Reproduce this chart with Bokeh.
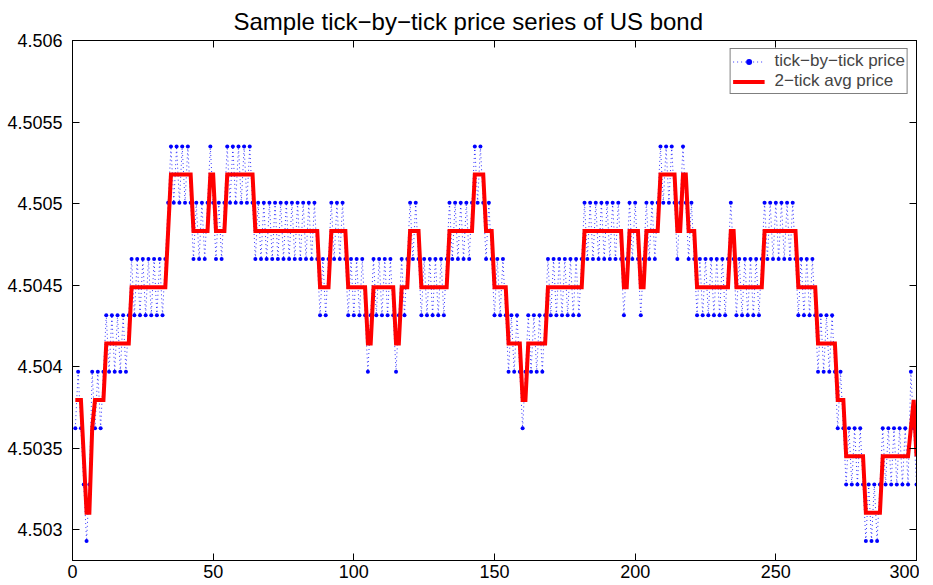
import numpy as np
import pandas as pd
from bokeh.plotting import figure
from bokeh.models import (ColumnDataSource, Range1d, FixedTicker, LinearAxis,
                          Legend, LegendItem, CustomJSTickFormatter)
from bokeh.embed import file_html
from bokeh.resources import INLINE

# ---------------- data ----------------
# log-price grid levels (one 1/32 tick apart), lowest to highest
price_levels = [4.502930, 4.503276, 4.503622, 4.503968,
                4.504314, 4.504659, 4.505005, 4.505350]

# level of each tick, tick index 0..300 (index 0 is the tick just before the window)
tick_level = (
    [3, 2, 3, 2, 1, 0, 1, 3, 2, 3, 2, 3]                      # 0-11
    + [4, 3, 4, 3, 4, 3, 4, 3, 4]                             # 12-20
    + [5, 4, 5, 4, 5, 4, 5, 4, 5, 4, 5, 4, 5]                 # 21-33
    + [6]                                                     # 34
    + [7, 6, 7, 6, 7, 6, 7, 6]                                # 35-42
    + [5, 6, 5, 6, 5, 6]                                      # 43-48
    + [7, 6]                                                  # 49-50
    + [5, 6, 5, 6]                                            # 51-54
    + [7, 6, 7, 6, 7, 6, 7, 6, 7, 6]                          # 55-64
    + [5, 6, 5, 6, 5, 6, 5, 6, 5, 6, 5, 6,
       5, 6, 5, 6, 5, 6, 5, 6, 5, 6, 5]                       # 65-87
    + [4, 5, 4, 5]                                            # 88-91
    + [6, 5, 6, 5, 6, 5]                                      # 92-97
    + [4, 5, 4, 5, 4, 5, 4]                                   # 98-104
    + [3, 4]                                                  # 105-106
    + [5, 4, 5, 4, 5, 4, 5, 4]                                # 107-114
    + [3, 4]                                                  # 115-116
    + [5, 4, 5]                                               # 117-119
    + [6, 5, 6, 5]                                            # 120-123
    + [4, 5, 4, 5, 4, 5, 4, 5, 4, 5]                          # 124-133
    + [6, 5, 6, 5, 6, 5, 6, 5, 6]                             # 134-142
    + [7, 6, 7, 6]                                            # 143-146
    + [5, 6, 5]                                               # 147-149
    + [4, 5, 4, 5, 4]                                         # 150-154
    + [3, 4, 3, 4, 3]                                         # 155-159
    + [2, 3]                                                  # 160-161
    + [4, 3, 4, 3, 4, 3, 4]                                   # 162-168
    + [5, 4, 5, 4, 5, 4, 5, 4, 5, 4, 5, 4, 5]                 # 169-181
    + [6, 5, 6, 5, 6, 5, 6, 5, 6, 5, 6, 5, 6, 5]              # 182-195
    + [4, 5]                                                  # 196-197
    + [6, 5, 6, 5]                                            # 198-201
    + [4, 5]                                                  # 202-203
    + [6, 5, 6, 5, 6]                                         # 204-208
    + [7, 6, 7, 6, 7, 6]                                      # 209-214
    + [5, 6, 7, 6]                                            # 215-218
    + [5, 6, 5]                                               # 219-221
    + [4, 5, 4, 5, 4, 5, 4, 5, 4, 5, 4, 5]                    # 222-233
    + [6, 5]                                                  # 234-235
    + [4, 5, 4, 5, 4, 5, 4, 5, 4, 5]                          # 236-245
    + [6, 5, 6, 5, 6, 5, 6, 5, 6, 5, 6, 5]                    # 246-257
    + [4, 5, 4, 5, 4, 5, 4]                                   # 258-264
    + [3, 4, 3, 4, 3, 4, 3]                                   # 265-271
    + [2, 3, 2]                                               # 272-274
    + [1, 2, 1, 2, 1, 2, 1]                                   # 275-281
    + [0, 1, 0, 1, 0, 1]                                      # 282-287
    + [2, 1, 2, 1, 2, 1, 2, 1, 2, 1]                          # 288-297
    + [3, 2, 1]                                               # 298-300
)
assert len(tick_level) == 301

x_ticks = [0, 50, 100, 150, 200, 250, 300]
y_ticks = [4.503, 4.5035, 4.504, 4.5045, 4.505, 4.5055, 4.506]

title_text = "Sample tick\u2212by\u2212tick price series of US bond"
label_tick = "tick\u2212by\u2212tick price"
label_avg = "2\u2212tick avg price"

# ---------------- derived series ----------------
tick_price = pd.Series([price_levels[k] for k in tick_level])
avg_price = tick_price.rolling(2).mean()          # 2-tick average
idx = np.arange(len(tick_level))

src = ColumnDataSource(dict(x=idx[1:], tick=tick_price.values[1:],
                            avg=avg_price.values[1:]))

FONT = "Liberation Sans"

p = figure(width=919, height=580, output_backend="svg", toolbar_location=None,
           x_range=Range1d(0, 300), y_range=Range1d(4.50281, 4.506),
           min_border_left=72, min_border_right=3, min_border_top=40,
           min_border_bottom=10)
p.grid.visible = False
p.background_fill_color = "white"
p.border_fill_color = "white"
p.outline_line_color = "black"
p.outline_line_width = 1

p.title.text = title_text
p.title.align = "left"
p.title.offset = 161
p.title.standoff = 11
p.title.text_font = FONT
p.title.text_font_size = "24px"
p.title.text_line_height = 1.0
p.title.text_font_style = "normal"
p.title.text_color = "black"

r_line = p.line("x", "tick", source=src, line_color="#0000ff", line_width=0.8,
                line_dash="1 3")
r_dot = p.scatter("x", "tick", source=src, size=4, marker="circle",
                  fill_color="#0000ff", line_color="#0000ff", line_width=0)
r_avg = p.line("x", "avg", source=src, line_color="#ff0000", line_width=4,
               line_join="miter")

fmt = CustomJSTickFormatter(code="return tick.toFixed(4).replace(/0+$/, '');")
blank = CustomJSTickFormatter(code="return '';")

def style_axis(ax, ticks, show_labels=True):
    ax.ticker = FixedTicker(ticks=ticks)
    ax.major_tick_in = 7
    ax.major_tick_out = 0
    ax.minor_tick_in = 0
    ax.minor_tick_out = 0
    ax.axis_line_color = "black"
    ax.major_tick_line_color = "black"
    ax.major_label_text_font = FONT
    ax.major_label_text_color = "black"
    if show_labels:
        ax.major_label_text_font_size = "18px"
        ax.major_label_text_line_height = 0.9
    else:
        ax.formatter = blank
        ax.major_label_text_font_size = "1px"
        ax.major_label_standoff = 0

style_axis(p.xaxis[0], x_ticks)
p.xaxis[0].major_label_standoff = 4
style_axis(p.yaxis[0], y_ticks)
p.yaxis[0].major_label_standoff = 10
p.yaxis[0].formatter = fmt

ax_top = LinearAxis()
style_axis(ax_top, x_ticks, show_labels=False)
p.add_layout(ax_top, "above")
ax_right = LinearAxis()
style_axis(ax_right, y_ticks, show_labels=False)
p.add_layout(ax_right, "right")

legend = Legend(items=[LegendItem(label=label_tick, renderers=[r_line, r_dot]),
                       LegendItem(label=label_avg, renderers=[r_avg])],
                location="top_right")
legend.label_text_font = FONT
legend.label_text_font_size = "17px"
legend.label_height = 15
legend.glyph_height = 15
legend.glyph_width = 32
legend.label_standoff = 10
legend.padding = 2
legend.spacing = 0
legend.margin = 8
legend.border_line_color = "black"
legend.border_line_width = 1
legend.background_fill_alpha = 1
p.add_layout(legend, "center")

open("out.html", "w").write(file_html(p, INLINE))
